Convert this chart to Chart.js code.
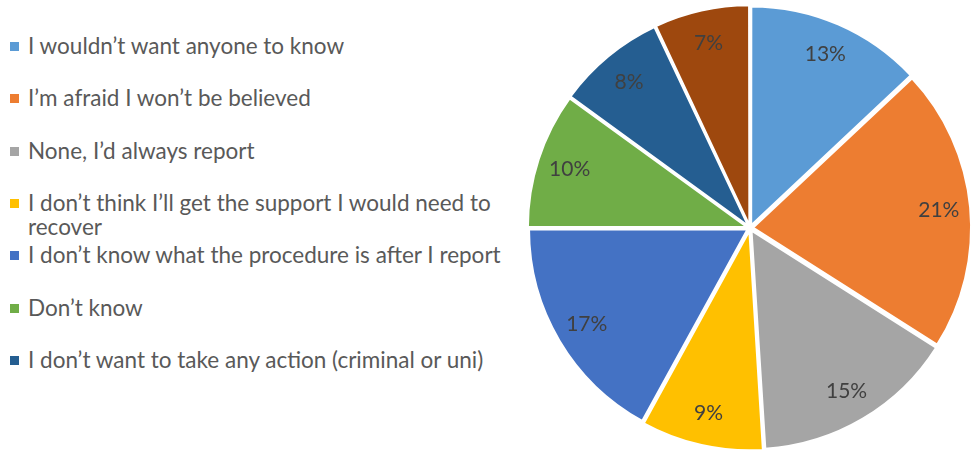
<!DOCTYPE html>
<html>
<head>
<meta charset="utf-8">
<script src="https://cdn.jsdelivr.net/npm/chart.js@4"></script>
<style>
  html,body{margin:0;padding:0;background:#fff;overflow:hidden;}
  body{width:977px;height:450px;position:relative;font-family:Lato,"Open Sans",sans-serif;}
  #legend{position:absolute;left:0;top:0;width:520px;height:450px;}
  .item{position:absolute;left:28px;width:480px;font-size:22.5px;line-height:24px;color:#595959;}
  .box{position:absolute;left:-18px;top:8px;width:9px;height:9px;}
  #wrap{position:absolute;left:525px;top:3px;width:450px;height:450px;}
</style>
</head>
<body>
<div id="legend"></div>
<div id="wrap"><canvas id="pie"></canvas></div>
<script>
// === Data ===
const labels = [
  "I wouldn\u2019t want anyone to know",
  "I\u2019m afraid I won\u2019t be believed",
  "None, I\u2019d always report",
  "I don\u2019t think I\u2019ll get the support I would need to recover",
  "I don\u2019t know what the procedure is after I report",
  "Don\u2019t know",
  "I don\u2019t want to take any action (criminal or uni)",
  "Other"
];
const values = [13, 21, 15, 9, 17, 10, 8, 7];
const colors = ["#5B9BD5","#ED7D31","#A5A5A5","#FFC000","#4472C4","#70AD47","#255E91","#9E480E"];
const legendShown = 7; // last entry is cut off in the original

// === Legend (html, wraps long text like the original) ===
const lg = document.getElementById("legend");
for(let i=0;i<legendShown;i++){
  const d = document.createElement("div");
  d.className = "item";
  d.style.top = (34 + i*52.3) + "px";
  d.innerHTML = `<span class="box" style="background:${colors[i]}"></span>${labels[i]}`;
  lg.appendChild(d);
}

// === Percent labels inside slices ===
const pctLabels = {
  id:"pctLabels",
  afterDatasetsDraw(chart){
    const ctx = chart.ctx;
    const meta = chart.getDatasetMeta(0);
    const total = values.reduce((a,b)=>a+b,0);
    ctx.save();
    ctx.font = "21px Lato, 'Open Sans', sans-serif";
    ctx.fillStyle = "#404040";
    ctx.textAlign = "center";
    ctx.textBaseline = "middle";
    meta.data.forEach((arc,i)=>{
      const mid = (arc.startAngle + arc.endAngle)/2;
      const r = arc.outerRadius * 0.87;
      const x = arc.x + Math.cos(mid)*r, y = arc.y + Math.sin(mid)*r;
      ctx.fillText(Math.round(values[i]/total*100) + "%", x, y);
    });
    ctx.restore();
  }
};

new Chart(document.getElementById("pie"), {
  type:"pie",
  data:{labels:labels, datasets:[{data:values, backgroundColor:colors,
    borderColor:"#fff", borderWidth:2, offset:12, hoverOffset:12}]},
  options:{
    responsive:true, maintainAspectRatio:false, animation:false,
    plugins:{legend:{display:false}, tooltip:{enabled:false}}
  },
  plugins:[pctLabels]
});
</script>
</body>
</html>
